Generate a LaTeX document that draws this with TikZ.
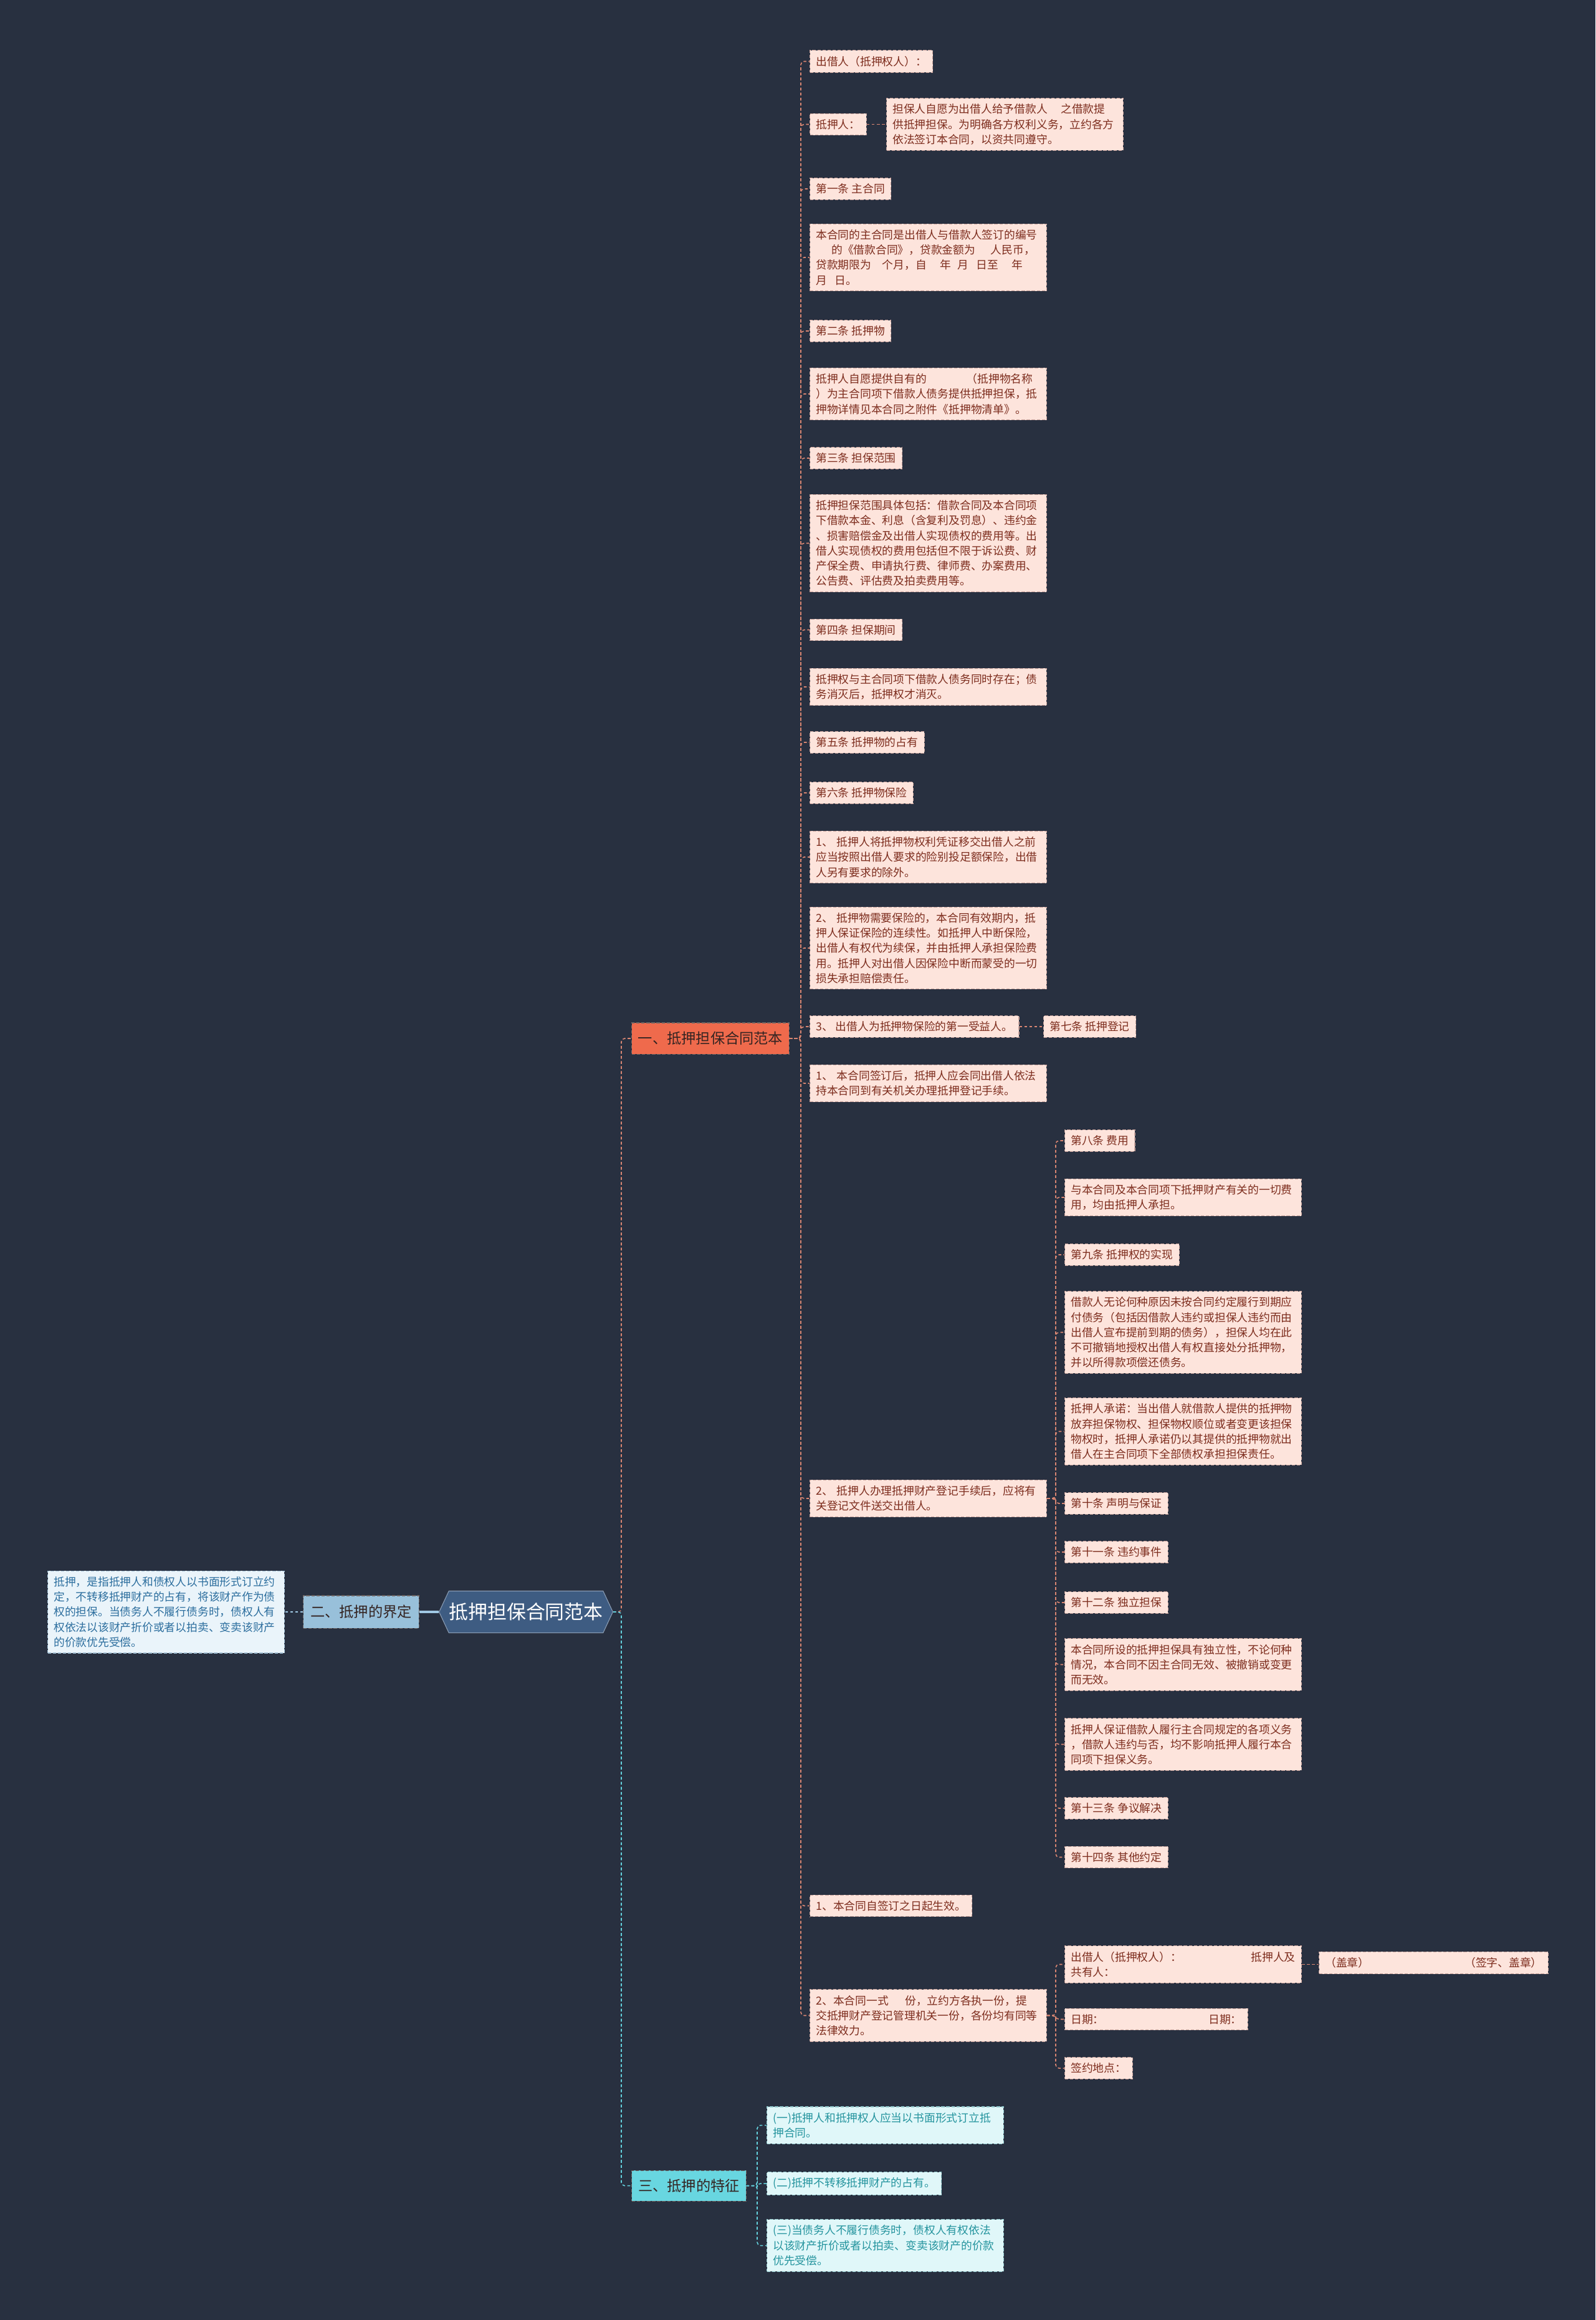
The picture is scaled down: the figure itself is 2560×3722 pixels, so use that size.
\documentclass[tikz,border=0pt]{standalone}
\usepackage{fontspec}
\setmainfont{Noto Sans CJK SC}
\usepackage{tikz}
\usetikzlibrary{shapes.symbols, positioning}
\definecolor{bgnavy}{RGB}{40,48,64}
\definecolor{rootblue}{RGB}{62,92,130}
\definecolor{brorange}{RGB}{239,106,76}
\definecolor{brblue}{RGB}{152,192,218}
\definecolor{brcyan}{RGB}{104,214,224}
\definecolor{brdark}{RGB}{52,36,34}
\definecolor{leafpink}{RGB}{253,228,220}
\definecolor{leafred}{RGB}{125,45,30}
\definecolor{leafice}{RGB}{234,244,250}
\definecolor{leafnavy}{RGB}{44,110,158}
\definecolor{leafaqua}{RGB}{224,247,249}
\definecolor{leafteal}{RGB}{36,148,158}
\definecolor{lnsalmon}{RGB}{217,134,114}
\definecolor{lnsky}{RGB}{160,200,228}
\definecolor{lncyan}{RGB}{100,210,222}

\begin{document}
\begin{tikzpicture}[x=0.01cm, y=-0.01cm,
  leaf/.style={draw=leafred!45, dashed, dash pattern=on 1.5pt off 0.8pt, line width=0.3pt,
    fill=leafpink, text=leafred, font=\fontsize{5.05}{6.9}\selectfont,
    inner xsep=2.8pt, inner ysep=2.6pt, anchor=west},
  wide/.style={leaf, text width=3.6cm, align=left},
  iceleaf/.style={wide, fill=leafice, text=leafnavy, draw=leafnavy!45},
  aqualeaf/.style={leaf, fill=leafaqua, text=leafteal, draw=leafteal!50},
  aquawide/.style={wide, fill=leafaqua, text=leafteal, draw=leafteal!50},
  branch/.style={draw=brdark!70, dashed, dash pattern=on 1.5pt off 0.8pt, line width=0.3pt,
    text=brdark, font=\fontsize{6.6}{8}\selectfont, inner sep=0pt, minimum height=0.5cm},
  lk1/.style={draw=lnsalmon, dashed, dash pattern=on 1.3pt off 1pt, line width=0.45pt, rounded corners=1.5pt},
  lk2/.style={lk1, draw=lnsky},
  lk3/.style={lk1, draw=lncyan}
]
  % background and margins
  \fill[bgnavy] (0,0) rectangle (2560,3722);
  \useasboundingbox (0,0) rectangle (2560,3722);

  % Root and branches
  \node[signal, signal to=west and east, signal pointer angle=130, fill=rootblue,
    draw=rootblue!60!white, line width=0.3pt, text=white, font=\fontsize{8.8}{10}\selectfont,
    minimum width=2.78cm, minimum height=0.67cm, inner sep=0pt] (root) at (844, 2586) {抵押担保合同范本};
  \node[branch, fill=brorange, minimum width=2.52cm] (b1) at (1140, 1666) {一、抵押担保合同范本};
  \node[branch, fill=brblue, minimum width=1.85cm, minimum height=0.52cm] (b2) at (579.5, 2586) {二、抵押的界定};
  \node[branch, fill=brcyan, minimum width=1.83cm, minimum height=0.49cm] (b3) at (1105.5, 3506.5) {三、抵押的特征};

  % Branch 2 leaf
  \node[iceleaf] (d1) at (76, 2586) {抵押，是指抵押人和债权人以书面形式订立约\\定，不转移抵押财产的占有，将该财产作为债\\权的担保。当债务人不履行债务时，债权人有\\权依法以该财产折价或者以拍卖、变卖该财产\\的价款优先受偿。};

  % Branch 1 leaves
  \node[leaf] (a1) at (1299, 98.5) {出借人（抵押权人）：};
  \node[leaf] (a2) at (1299, 199.5) {抵押人：};
  \node[wide] (a2x) at (1422, 199.5) {担保人自愿为出借人给予借款人\hspace{1.2em}之借款提\\供抵押担保。为明确各方权利义务，立约各方\\依法签订本合同，以资共同遵守。};
  \node[leaf] (a3) at (1299, 303) {第一条 主合同};
  \node[wide] (a4) at (1299, 413) {本合同的主合同是出借人与借款人签订的编号\\\hspace*{1.4em}的《借款合同》，贷款金额为\hspace{1.4em}人民币，\\贷款期限为\hspace{1em}个月，自\hspace{1.2em}年\hspace{0.6em}月\hspace{0.7em}日至\hspace{1.2em}年\\月\hspace{0.7em}日。};
  \node[leaf] (a5) at (1299, 531) {第二条 抵押物};
  \node[wide] (a6) at (1299, 632) {抵押人自愿提供自有的\hspace{3.6em}（抵押物名称\\）为主合同项下借款人债务提供抵押担保，抵\\押物详情见本合同之附件《抵押物清单》。};
  \node[leaf] (a7) at (1299, 735) {第三条 担保范围};
  \node[wide] (a8) at (1299, 871.5) {抵押担保范围具体包括：借款合同及本合同项\\下借款本金、利息（含复利及罚息）、违约金\\、损害赔偿金及出借人实现债权的费用等。出\\借人实现债权的费用包括但不限于诉讼费、财\\产保全费、申请执行费、律师费、办案费用、\\公告费、评估费及拍卖费用等。};
  \node[leaf] (a9) at (1299, 1010.5) {第四条 担保期间};
  \node[wide] (a10) at (1299, 1102) {抵押权与主合同项下借款人债务同时存在；债\\务消灭后，抵押权才消灭。};
  \node[leaf] (a11) at (1299, 1191) {第五条 抵押物的占有};
  \node[leaf] (a12) at (1299, 1272) {第六条 抵押物保险};
  \node[wide] (a13) at (1299, 1375) {1、~抵押人将抵押物权利凭证移交出借人之前\\应当按照出借人要求的险别投足额保险，出借\\人另有要求的除外。};
  \node[wide] (a14) at (1299, 1521) {2、~抵押物需要保险的，本合同有效期内，抵\\押人保证保险的连续性。如抵押人中断保险，\\出借人有权代为续保，并由抵押人承担保险费\\用。抵押人对出借人因保险中断而蒙受的一切\\损失承担赔偿责任。};
  \node[leaf] (a15) at (1299, 1647) {3、 出借人为抵押物保险的第一受益人。};
  \node[leaf] (a15x) at (1674, 1647) {第七条 抵押登记};
  \node[wide] (a16) at (1299, 1738) {1、~本合同签订后，抵押人应会同出借人依法\\持本合同到有关机关办理抵押登记手续。};
  \node[wide] (a17) at (1299, 2404) {2、~抵押人办理抵押财产登记手续后，应将有\\关登记文件送交出借人。};
  \node[leaf] (a18) at (1299, 3057.5) {1、本合同自签订之日起生效。};
  \node[wide] (a19) at (1299, 3233.5) {2、本合同一式\hspace{1.5em}份，立约方各执一份，提\\交抵押财产登记管理机关一份，各份均有同等\\法律效力。};

  % Leaves under a17
  \node[leaf] (c1) at (1708, 1830) {第八条 费用};
  \node[wide] (c2) at (1708, 1921) {与本合同及本合同项下抵押财产有关的一切费\\用，均由抵押人承担。};
  \node[leaf] (c3) at (1708, 2013) {第九条 抵押权的实现};
  \node[wide] (c4) at (1708, 2137.5) {借款人无论何种原因未按合同约定履行到期应\\付债务（包括因借款人违约或担保人违约而由\\出借人宣布提前到期的债务），担保人均在此\\不可撤销地授权出借人有权直接处分抵押物，\\并以所得款项偿还债务。};
  \node[wide] (c5) at (1708, 2296.5) {抵押人承诺：当出借人就借款人提供的抵押物\\放弃担保物权、担保物权顺位或者变更该担保\\物权时，抵押人承诺仍以其提供的抵押物就出\\借人在主合同项下全部债权承担担保责任。};
  \node[leaf] (c6) at (1708, 2412) {第十条 声明与保证};
  \node[leaf] (c7) at (1708, 2490) {第十一条 违约事件};
  \node[leaf] (c8) at (1708, 2571) {第十二条 独立担保};
  \node[wide] (c9) at (1708, 2670.5) {本合同所设的抵押担保具有独立性，不论何种\\情况，本合同不因主合同无效、被撤销或变更\\而无效。};
  \node[wide] (c10) at (1708, 2798.5) {抵押人保证借款人履行主合同规定的各项义务\\，借款人违约与否，均不影响抵押人履行本合\\同项下担保义务。};
  \node[leaf] (c11) at (1708, 2901) {第十三条 争议解决};
  \node[leaf] (c12) at (1708, 2979.5) {第十四条 其他约定};

  % Leaves under a19
  \node[wide] (s1) at (1708, 3151.5) {出借人（抵押权人）：\hfill 抵押人及\\共有人：\\[2pt]};
  \node[leaf, text width=3.48cm, align=left] (s1x) at (2116, 3149) {（盖章）\hfill（签字、盖章）};
  \node[leaf, text width=2.74cm, align=left] (s2) at (1708, 3239.5) {日期：\hfill 日期：};
  \node[leaf] (s3) at (1708, 3318) {签约地点：};

  % Branch 3 leaves
  \node[aquawide] (e1) at (1230, 3409.5) {(一)抵押人和抵押权人应当以书面形式订立抵\\押合同。};
  \node[aqualeaf] (e2) at (1230, 3503) {(二)抵押不转移抵押财产的占有。};
  \node[aquawide] (e3) at (1230, 3602.5) {(三)当债务人不履行债务时，债权人有权依法\\以该财产折价或者以拍卖、变卖该财产的价款\\优先受偿。};

  % Trunks
  \coordinate (t0) at (997, 0);
  \coordinate (t1) at (1285, 0);
  \coordinate (t2) at (1694, 0);
  \coordinate (t3) at (1215, 0);

  % Connectors
  \draw[line width=1.1pt, lnsky] (root.west) -- (b2.east);
  \draw[lk2] (b2.west) -- (d1.east);
  \draw[lk1] (root.east) -- (t0 |- root.east) |- (b1.west);
  \draw[lk3] (root.east) -- (t0 |- root.east) |- (b3.west);
  \foreach \n in {a1,a2,a3,a4,a5,a6,a7,a8,a9,a10,a11,a12,a13,a14,a15,a16,a17,a18,a19}
    \draw[lk1] (b1.east) -- (t1 |- b1.east) |- (\n.west);
  \draw[lk1] (a2.east) -- (a2x.west);
  \draw[lk1] (a15.east) -- (a15x.west);
  \foreach \n in {c1,c2,c3,c4,c5,c6,c7,c8,c9,c10,c11,c12}
    \draw[lk1] (a17.east) -- (t2 |- a17.east) |- (\n.west);
  \foreach \n in {s1,s2,s3}
    \draw[lk1] (a19.east) -- (t2 |- a19.east) |- (\n.west);
  \draw[lk1] (s1.east) -- (s1.east -| s1x.west);
  \foreach \n in {e1,e2,e3}
    \draw[lk3] (b3.east) -- (t3 |- b3.east) |- (\n.west);
\end{tikzpicture}
\end{document}
